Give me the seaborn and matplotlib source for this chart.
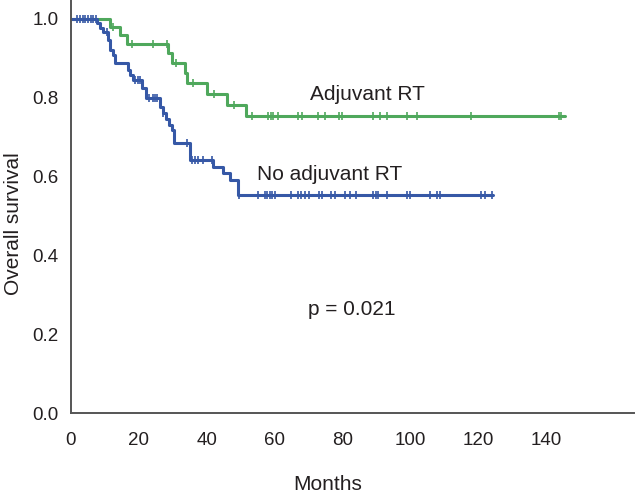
import numpy as np
import pandas as pd
import seaborn as sns
import matplotlib
matplotlib.use('Agg')
import matplotlib.pyplot as plt

# Kaplan-Meier step data (months, survival after the event)
adj_times = [11.5, 14.4, 16.4, 28.7, 29.7, 33.6, 34.1, 40.0, 45.9, 51.5]
adj_surv = [0.980, 0.959, 0.937, 0.914, 0.887, 0.864, 0.837, 0.810, 0.782, 0.754]
adj_end = 145.6
adj_censor = [12.5, 17.9, 24.3, 28.2, 31.1, 36.0, 42.1, 48.0, 53.3, 58.2, 58.9, 59.6,
              61.1, 67.0, 68.0, 72.9, 74.9, 79.1, 79.9, 89.1, 91.1, 93.1, 99.0, 102.1,
              117.8, 143.9, 144.6]

noadj_times = [7.8, 8.5, 9.3, 11.0, 11.5, 12.5, 13.0, 16.9, 17.4, 18.2, 20.8, 22.1,
               26.2, 27.0, 28.0, 29.0, 29.8, 30.4, 35.1, 41.9, 44.8, 46.8, 49.3]
noadj_surv = [0.989, 0.976, 0.968, 0.947, 0.921, 0.909, 0.888, 0.871, 0.858, 0.845,
              0.824, 0.799, 0.777, 0.761, 0.746, 0.731, 0.718, 0.684, 0.642, 0.625,
              0.608, 0.591, 0.553]
noadj_end = 124.4
noadj_censor = [1.9, 2.7, 3.4, 4.2, 5.0, 5.8, 6.6, 7.4, 10.5, 18.9, 19.8, 20.3, 23.1,
                24.1, 24.8, 25.5, 27.2, 34.1, 35.6, 36.5, 37.5, 39.0, 41.5, 49.6, 55.2,
                57.2, 57.9, 58.6, 59.3, 60.1, 64.8, 67.0, 67.8, 69.0, 70.1, 73.1, 73.9,
                76.8, 77.8, 80.8, 82.2, 83.9, 89.1, 89.9, 90.6, 93.1, 99.0, 99.9, 105.8,
                107.8, 108.8, 121.0, 122.0, 124.0]

groups = ['Adjuvant RT', 'No adjuvant RT']
colors = {'Adjuvant RT': '#4fa85c', 'No adjuvant RT': '#3658a6'}


def curve(times, surv, end):
    t = [0.0] + list(times) + [end]
    s = [1.0] + list(surv) + [surv[-1]]
    return pd.DataFrame({'t': t, 's': s})


def censor_points(times, surv, ct):
    # survival level at each censoring time, looked up on the step curve
    t = np.array([0.0] + list(times))
    s = np.array([1.0] + list(surv))
    idx = np.searchsorted(t, ct, side='right') - 1
    return pd.DataFrame({'t': ct, 's': s[idx]})


curves = {
    'Adjuvant RT': curve(adj_times, adj_surv, adj_end),
    'No adjuvant RT': curve(noadj_times, noadj_surv, noadj_end),
}
censors = {
    'Adjuvant RT': censor_points(adj_times, adj_surv, adj_censor),
    'No adjuvant RT': censor_points(noadj_times, noadj_surv, noadj_censor),
}

sns.set_style('white')
plt.rcParams['font.family'] = ['Liberation Sans', 'DejaVu Sans']
text_col = '#231f20'
axis_col = '#555555'

fig = plt.figure(figsize=(6.37, 4.94), dpi=100)
ax = fig.add_axes([71 / 637, 81 / 494, 563 / 637, 413 / 494])

for g in groups:
    sns.lineplot(data=curves[g], x='t', y='s', ax=ax, color=colors[g], linewidth=2.2,
                 drawstyle='steps-post', estimator=None, sort=False)
    sns.scatterplot(data=censors[g], x='t', y='s', ax=ax, color=colors[g], marker='|',
                    s=40, linewidth=1.2)

ax.set_xlim(0, 166)
ax.set_ylim(0, 1.048)
ax.set_xticks(np.arange(0, 141, 20))
ax.set_yticks(np.arange(0, 1.01, 0.2))
ax.set_yticklabels([f'{v:.1f}' for v in np.arange(0, 1.01, 0.2)])

for side in ['top', 'right']:
    ax.spines[side].set_visible(False)
for side in ['left', 'bottom']:
    ax.spines[side].set_color(axis_col)
    ax.spines[side].set_linewidth(1.4)
ax.tick_params(direction='out', length=6, width=1.2, color=axis_col,
               labelsize=13.5, labelcolor=text_col, pad=3)
ax.tick_params(axis='x', pad=8)

ax.set_xlabel('Months', fontsize=15, color=text_col)
ax.set_ylabel('Overall survival', fontsize=15, color=text_col)
ax.xaxis.set_label_coords(0.4565, -0.15)
ax.yaxis.set_label_coords(-0.086, 0.458)

ax.text(87.5, 0.807, 'Adjuvant RT', fontsize=15, color=text_col, ha='center', va='center')
ax.text(76.3, 0.604, 'No adjuvant RT', fontsize=15, color=text_col, ha='center', va='center')
ax.text(82.8, 0.262, 'p = 0.021', fontsize=15, color=text_col, ha='center', va='center')

fig.savefig('out.png', dpi=100)
